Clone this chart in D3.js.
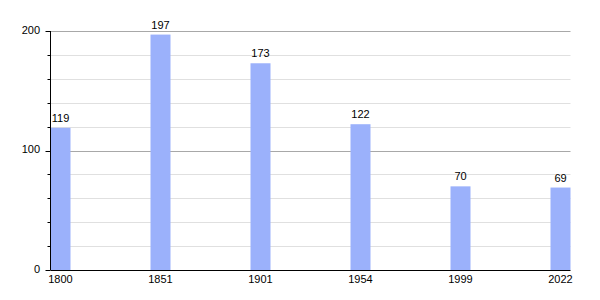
<!DOCTYPE html>
<html>
<head>
<meta charset="utf-8">
<script src="https://cdn.jsdelivr.net/npm/d3@7"></script>
<style>
  body { margin: 0; background: #fff; }
  text { font-family: "Liberation Sans", Arial, sans-serif; font-size: 11px; fill: #000; }
</style>
</head>
<body>
<svg id="chart" width="600" height="300"></svg>
<script>
// Population by census year
var years = ["1800", "1851", "1901", "1954", "1999", "2022"];
var population = [119, 197, 173, 122, 70, 69];
var majorTicks = [0, 100, 200];
var minorTicks = [20, 40, 60, 80, 120, 140, 160, 180];

var svg = d3.select("svg#chart");
var plotLeft = 50.5, plotRight = 570.5, plotTop = 31, plotBottom = 270;
var barWidth = 20;

var x = d3.scalePoint()
  .domain(years)
  .range([50.5, 550.5]);

var y = d3.scaleLinear()
  .domain([0, 200])
  .range([plotBottom, plotTop]);

function yPx(d) { return Math.round(y(d)) + 0.5; }

// minor gridlines
svg.append("g")
  .selectAll("line")
  .data(minorTicks)
  .join("line")
  .attr("x1", plotLeft)
  .attr("x2", plotRight)
  .attr("y1", yPx)
  .attr("y2", yPx)
  .attr("stroke", "#e0e0e0");

// major gridlines
svg.append("g")
  .selectAll("line")
  .data(majorTicks.filter(d => d > 0))
  .join("line")
  .attr("x1", plotLeft)
  .attr("x2", plotRight)
  .attr("y1", yPx)
  .attr("y2", yPx)
  .attr("stroke", "#a8a8a8");

// bars
svg.append("g")
  .selectAll("rect")
  .data(population)
  .join("rect")
  .attr("x", (d, i) => x(years[i]))
  .attr("y", d => y(d))
  .attr("width", barWidth)
  .attr("height", d => plotBottom - y(d))
  .attr("fill", "#9bb1fb");

// value labels
svg.append("g")
  .selectAll("text")
  .data(population)
  .join("text")
  .attr("x", (d, i) => x(years[i]) + barWidth / 2)
  .attr("y", d => y(d) - 6)
  .attr("text-anchor", "middle")
  .text(d => d);

// y axis
var yAxis = svg.append("g");
yAxis.append("line")
  .attr("x1", plotLeft).attr("x2", plotLeft)
  .attr("y1", plotTop).attr("y2", plotBottom)
  .attr("stroke", "#000");
yAxis.selectAll("line.minor")
  .data(minorTicks)
  .join("line")
  .attr("class", "minor")
  .attr("x1", plotLeft - 3).attr("x2", plotLeft)
  .attr("y1", yPx)
  .attr("y2", yPx)
  .attr("stroke", "#000");
yAxis.selectAll("line.major")
  .data(majorTicks)
  .join("line")
  .attr("class", "major")
  .attr("x1", plotLeft - 5).attr("x2", plotLeft)
  .attr("y1", yPx)
  .attr("y2", yPx)
  .attr("stroke", "#000");
yAxis.selectAll("text")
  .data(majorTicks)
  .join("text")
  .attr("x", 40)
  .attr("y", d => y(d) - 1)
  .attr("dy", "0.35em")
  .attr("text-anchor", "end")
  .text(d => d);

// x axis
svg.append("line")
  .attr("x1", plotLeft).attr("x2", plotRight)
  .attr("y1", plotBottom + 0.5).attr("y2", plotBottom + 0.5)
  .attr("stroke", "#000");
svg.append("g")
  .selectAll("text")
  .data(years)
  .join("text")
  .attr("x", d => x(d) + barWidth / 2)
  .attr("y", plotBottom + 13)
  .attr("text-anchor", "middle")
  .text(d => d);
</script>
</body>
</html>
